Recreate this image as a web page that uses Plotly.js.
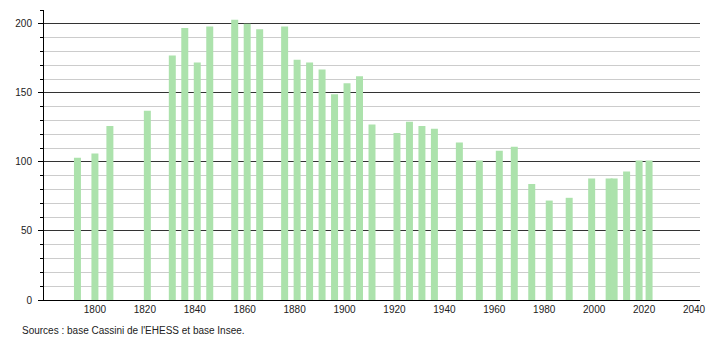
<!DOCTYPE html>
<html>
<head>
<meta charset="utf-8">
<script src="https://cdn.plot.ly/plotly-3.0.1.min.js"></script>
<style>html,body{margin:0;padding:0;background:#fff;}#chart{width:710px;height:340px;}</style>
</head>
<body>
<div id="chart"></div>
<script>
const years = [1793, 1800, 1806, 1821, 1831, 1836, 1841, 1846, 1856, 1861, 1866, 1876, 1881, 1886, 1891, 1896, 1901, 1906, 1911, 1921, 1926, 1931, 1936, 1946, 1954, 1962, 1968, 1975, 1982, 1990, 1999, 2006, 2008, 2013, 2018, 2022];
const population = [103, 106, 126, 137, 177, 197, 172, 198, 203, 200, 196, 198, 174, 172, 167, 149, 157, 162, 127, 121, 129, 126, 124, 114, 101, 108, 111, 84, 72, 74, 88, 88, 88, 93, 101, 101];
const xTickVals = [1800, 1820, 1840, 1860, 1880, 1900, 1920, 1940, 1960, 1980, 2000, 2020, 2040];
const sourceText = "Sources : base Cassini de l'EHESS et base Insee.";

const trace = {
  type: 'bar',
  x: years,
  y: population,
  width: 2.8,
  marker: {color: 'rgb(172,226,172)', line: {width: 0}},
  hoverinfo: 'x+y'
};

const layout = {
  width: 710,
  height: 340,
  margin: {l: 44, r: 10, t: 10, b: 40},
  paper_bgcolor: '#fff',
  plot_bgcolor: '#fff',
  showlegend: false,
  font: {family: 'Liberation Sans, Arial, sans-serif', size: 10, color: '#222'},
  xaxis: {
    range: [1779.6, 2042.4],
    tickmode: 'array',
    tickvals: xTickVals,
    ticktext: xTickVals.map(String),
    showgrid: false,
    zeroline: false,
    showline: true,
    linecolor: '#000',
    linewidth: 1,
    ticks: '',
    tickfont: {size: 10, color: '#222'},
    fixedrange: true
  },
  yaxis: {
    range: [0, 210],
    tickmode: 'linear',
    tick0: 0,
    dtick: 50,
    showgrid: true,
    gridcolor: '#333',
    gridwidth: 1,
    zeroline: false,
    showline: true,
    linecolor: '#000',
    linewidth: 1,
    ticks: 'outside',
    ticklen: 5,
    tickcolor: '#000',
    ticklabelstandoff: 4,
    tickfont: {size: 10, color: '#222'},
    minor: {dtick: 10, tick0: 0, showgrid: true, gridcolor: '#ccc', gridwidth: 1, ticks: 'outside', ticklen: 3, tickcolor: '#000'},
    fixedrange: true
  },
  annotations: [{
    text: sourceText,
    xref: 'paper', yref: 'paper',
    x: -0.037, y: -0.079,
    xanchor: 'left', yanchor: 'top',
    showarrow: false,
    font: {size: 10, color: '#222'}
  }]
};

Plotly.newPlot('chart', [trace], layout, {displayModeBar: false, staticPlot: true});
</script>
</body>
</html>
